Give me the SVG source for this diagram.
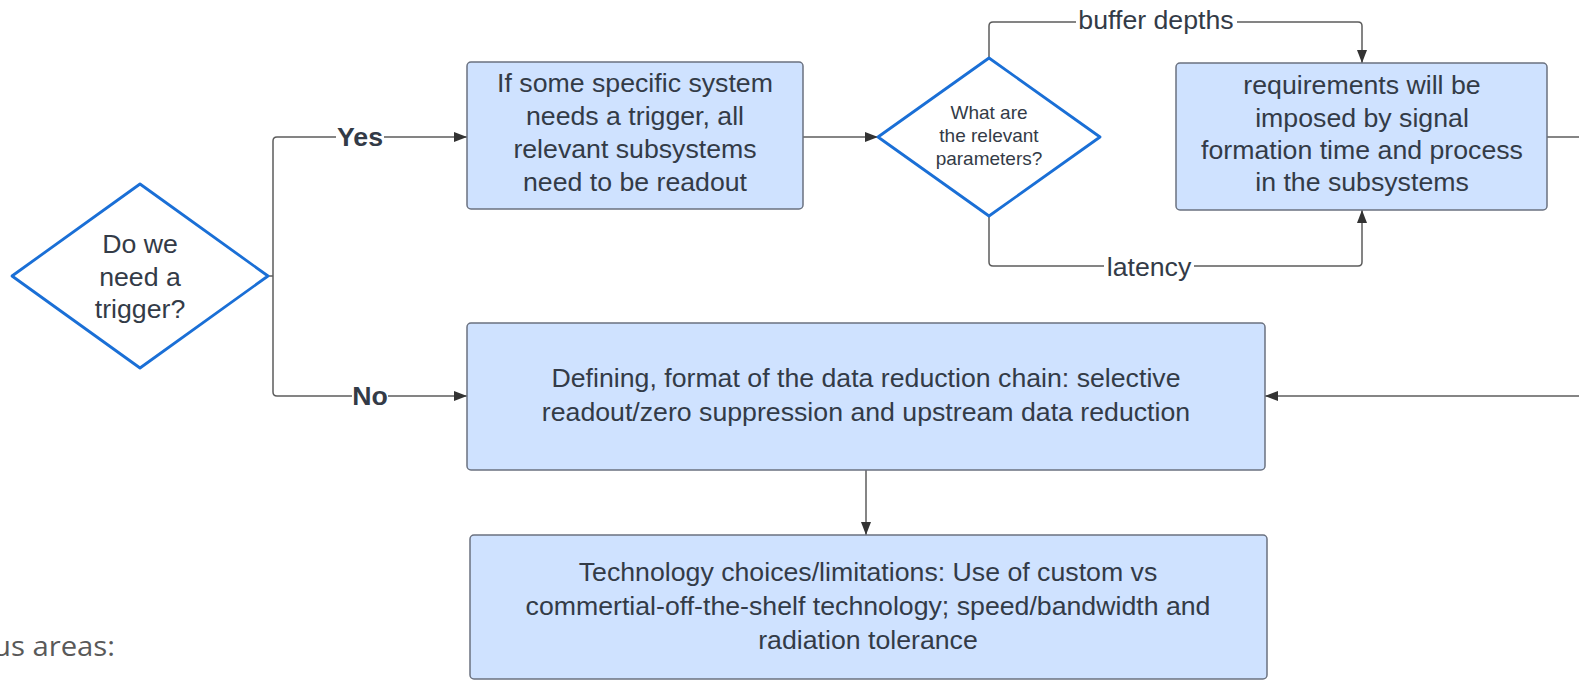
<svg xmlns="http://www.w3.org/2000/svg" width="1579" height="681" viewBox="0 0 1579 681">
  <style>
    .box { fill: #cfe2ff; stroke: #6b7280; stroke-width: 1.5; }
    .dia { fill: #ffffff; stroke: #1a6fd6; stroke-width: 2.8; stroke-linejoin: round; }
    .txt { font-family: "Liberation Sans", Arial, sans-serif; font-size: 26.7px; fill: #333b47; text-anchor: middle; }
    .small { font-size: 19px; }
    .lbl { font-family: "Liberation Sans", Arial, sans-serif; font-size: 26.7px; fill: #333b47; text-anchor: middle; }
    .bold { font-weight: bold; }
    .wire { fill: none; stroke: #5c5c5c; stroke-width: 1.5; }
    .mask { fill: #ffffff; }
  </style>
  <defs>
    <marker id="arrow" markerUnits="userSpaceOnUse" markerWidth="14" markerHeight="12" refX="13" refY="6" orient="auto">
      <path d="M0,1 L13,6 L0,11 Z" fill="#333333"/>
    </marker>
  </defs>
  <rect width="1579" height="681" fill="#ffffff"/>

  <!-- connectors -->
  <g id="connectors">
    <path class="wire" d="M268,276 H273"/>
    <path class="wire" d="M273,141 Q273,137 277,137 H467" marker-end="url(#arrow)"/>
    <path class="wire" d="M273,141 V392 Q273,396 277,396 H467" marker-end="url(#arrow)"/>
    <path class="wire" d="M803,137 H878" marker-end="url(#arrow)"/>
    <path class="wire" d="M989,58 V26 Q989,22 993,22 H1358 Q1362,22 1362,26 V63" marker-end="url(#arrow)"/>
    <path class="wire" d="M989,216 V262 Q989,266 993,266 H1358 Q1362,266 1362,262 V210" marker-end="url(#arrow)"/>
    <path class="wire" d="M1547,137 H1579"/>
    <path class="wire" d="M1579,396 H1265" marker-end="url(#arrow)"/>
    <path class="wire" d="M866,470 V535" marker-end="url(#arrow)"/>

    <!-- connector labels -->
    <rect class="mask" x="336" y="125" width="48" height="26"/>
    <text class="lbl bold" x="360" y="146">Yes</text>
    <rect class="mask" x="352" y="384" width="36" height="26"/>
    <text class="lbl bold" x="370" y="405">No</text>
    <rect class="mask" x="1076" y="7" width="161" height="30"/>
    <text class="lbl" x="1156" y="29">buffer depths</text>
    <rect class="mask" x="1104" y="254" width="90" height="30"/>
    <text class="lbl" x="1149" y="276">latency</text>
  </g>

  <!-- decision: trigger -->
  <g id="need-trigger">
    <polygon class="dia" points="140,184 268,276 140,368 12,276"/>
    <text class="txt" x="140" y="253">Do we</text>
    <text class="txt" x="140" y="286">need a</text>
    <text class="txt" x="140" y="318">trigger?</text>
  </g>

  <!-- triggered readout -->
  <g id="triggered-readout">
    <rect class="box" x="467" y="62" width="336" height="147" rx="4"/>
    <text class="txt" x="635" y="92">If some specific system</text>
    <text class="txt" x="635" y="125">needs a trigger, all</text>
    <text class="txt" x="635" y="158">relevant subsystems</text>
    <text class="txt" x="635" y="191">need to be readout</text>
  </g>

  <!-- decision: parameters -->
  <g id="parameters">
    <polygon class="dia" points="989,58 1100,137 989,216 878,137"/>
    <text class="txt small" x="989" y="119">What are</text>
    <text class="txt small" x="989" y="142">the relevant</text>
    <text class="txt small" x="989" y="165">parameters?</text>
  </g>

  <!-- requirements -->
  <g id="requirements">
    <rect class="box" x="1176" y="63" width="371" height="147" rx="4"/>
    <text class="txt" x="1362" y="94">requirements will be</text>
    <text class="txt" x="1362" y="127">imposed by signal</text>
    <text class="txt" x="1362" y="159">formation time and process</text>
    <text class="txt" x="1362" y="191">in the subsystems</text>
  </g>

  <!-- data reduction chain -->
  <g id="data-reduction">
    <rect class="box" x="467" y="323" width="798" height="147" rx="4"/>
    <text class="txt" x="866" y="387">Defining, format of the data reduction chain: selective</text>
    <text class="txt" x="866" y="421">readout/zero suppression and upstream data reduction</text>
  </g>

  <!-- technology choices -->
  <g id="technology">
    <rect class="box" x="470" y="535" width="797" height="144" rx="4"/>
    <text class="txt" x="868" y="581">Technology choices/limitations: Use of custom vs</text>
    <text class="txt" x="868" y="615">commertial-off-the-shelf technology; speed/bandwidth and</text>
    <text class="txt" x="868" y="649">radiation tolerance</text>
  </g>

  <!-- page text running past the left edge -->
  <text x="-7" y="656" font-family="'Open Sans', 'Noto Sans', sans-serif" font-size="28" fill="#595959" textLength="122" lengthAdjust="spacingAndGlyphs">us areas:</text>
</svg>
